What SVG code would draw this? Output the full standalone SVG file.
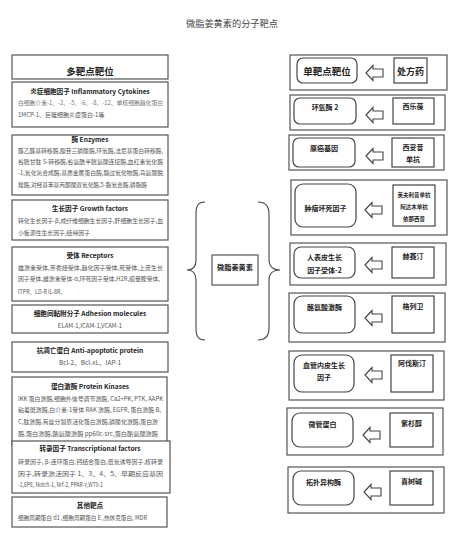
<svg xmlns="http://www.w3.org/2000/svg" xmlns:xlink="http://www.w3.org/1999/xlink" width="463" height="546" viewBox="0 0 463 546">
<style>
text{font-family:"Noto Sans CJK SC","Noto Sans",sans-serif;fill:#333}
.box{fill:#fff;stroke:#555;stroke-width:1.2}
.rb{fill:#fff;stroke:#444;stroke-width:1.2}
.t{font-size:6.6px;font-weight:bold;text-anchor:middle;fill:#222}
.b{font-size:6px;fill:#555}
.bc{font-size:6px;fill:#555;text-anchor:middle}
.h{font-size:9.5px;font-weight:bold;text-anchor:middle;fill:#222}
.r{font-size:7px;font-weight:bold;text-anchor:middle;fill:#222}
.rs{font-size:5.5px;font-weight:bold;text-anchor:middle;fill:#222}
.ln{fill:none;stroke:#444;stroke-width:1.1}
.arr{fill:#fff;stroke:#444;stroke-width:1.1}
</style>
<defs>
<path id="arrow" class="arr" d="M0,0 L7,-7.5 L7,-4 L17,-4 L17,4 L7,4 L7,7.5 Z"/>
</defs>
<rect width="463" height="546" fill="#fff"/>
<text x="232" y="27" style="font-size:9.2px;fill:#444;text-anchor:middle">微脂姜黄素的分子靶点</text>

<g id="left-header"><rect class="box" x="12" y="55" width="156" height="24"/><text class="h" x="90" y="75">多靶点靶位</text></g>

<g id="inflammatory"><rect class="box" x="12" y="82" width="156" height="45"/>
<text class="t" x="90" y="94">炎症细胞因子 Inflammatory Cytokines</text>
<text class="b" x="18" y="105" textLength="145" lengthAdjust="spacingAndGlyphs" style="fill:#777">白细胞介素-1、-2、-5、-6、-8、-12、单核细胞趋化蛋白</text>
<text class="b" x="18" y="117">1MCP-1、巨噬细胞炎症蛋白-1等</text></g>

<g id="enzymes"><rect class="box" x="12" y="135" width="156" height="60"/>
<text class="t" x="90" y="142">酶 Enzymes</text>
<text class="b" x="18" y="153" textLength="145" lengthAdjust="spacingAndGlyphs">醛乙醛基转移酶,腺苷三磷酸酶,环氧酶,法尼基蛋白转移酶,</text>
<text class="b" x="18" y="164" textLength="145" lengthAdjust="spacingAndGlyphs">谷胱甘肽 S-转移酶,谷氨酰半胱氨酸连接酶,血红素氧化酶</text>
<text class="b" x="18" y="175" textLength="145" lengthAdjust="spacingAndGlyphs">-1,氧化氮合成酶,基质金属蛋白酶,髓过氧化物酶,鸟氨酸脱</text>
<text class="b" x="18" y="187" textLength="129" lengthAdjust="spacingAndGlyphs">羧酶,对羟基苯基丙酮酸双氧化酶,5-脂氧合酶,磷脂酶</text></g>

<g id="growth"><rect class="box" x="12" y="200" width="156" height="40"/>
<text class="t" x="90" y="211">生长因子 Growth factors</text>
<text class="b" x="18" y="223" textLength="145" lengthAdjust="spacingAndGlyphs">转化生长因子-β,成纤维细胞生长因子,肝细胞生长因子,血</text>
<text class="b" x="18" y="235" textLength="72" lengthAdjust="spacingAndGlyphs">小板源性生长因子,结缔因子</text></g>

<g id="receptors"><rect class="box" x="12" y="247" width="156" height="54"/>
<text class="t" x="90" y="258">受体 Receptors</text>
<text class="b" x="18" y="270" textLength="145" lengthAdjust="spacingAndGlyphs">雄激素受体,芳香烃受体,趋化因子受体,死受体,上皮生长</text>
<text class="b" x="18" y="281" textLength="142" lengthAdjust="spacingAndGlyphs">因子受体,雌激素受体-α,环死因子受体,H2R,痕量胺受体,</text>
<text class="b" x="18" y="294" textLength="44" lengthAdjust="spacingAndGlyphs">ITPR、LD-R IL-8R,</text></g>

<g id="adhesion"><rect class="box" x="12" y="305" width="156" height="28"/>
<text class="t" x="90" y="316">细胞间黏附分子 Adhesion molecules</text>
<text class="bc" x="90" y="328">ELAM-1,ICAM-1,VCAM-1</text></g>

<g id="antiapoptotic"><rect class="box" x="12" y="342" width="156" height="30"/>
<text class="t" x="90" y="353">抗凋亡蛋白 Anti-apoptotic protein</text>
<text class="bc" x="90" y="365" style="font-size:6.5px">Bcl-2、Bcl-xL、IAP-1</text></g>

<g id="kinases"><rect class="box" x="12" y="377" width="155" height="68"/>
<text class="t" x="90" y="389">蛋白激酶 Protein Kinases</text>
<text class="b" x="18" y="401" textLength="145" lengthAdjust="spacingAndGlyphs">IKK 蛋白激酶,细胞外信号调节激酶, Ca2+PK, PTK, AAPK</text>
<text class="b" x="18" y="412" textLength="143" lengthAdjust="spacingAndGlyphs">粘着斑激酶,白介素-1受体 RAK 激酶, EGFR, 蛋白激酶 B,</text>
<text class="b" x="18" y="424" textLength="140" lengthAdjust="spacingAndGlyphs">C,肽激酶,有丝分裂原活化蛋白激酶,磷酸化激酶,蛋白激</text>
<text class="b" x="18" y="436" textLength="140" lengthAdjust="spacingAndGlyphs">酶,蛋白激酶,酪氨酸激酶 pp60c-src,蛋白酪氨酸激酶</text></g>

<g id="transcription"><rect class="box" x="12" y="441" width="158" height="52"/>
<text class="t" x="90" y="451">转录因子 Transcriptional factors</text>
<text class="b" x="18" y="464" textLength="145" lengthAdjust="spacingAndGlyphs">转录因子, β-连环蛋白,钙结合蛋白,低氧诱导因子,核转录</text>
<text class="b" x="18" y="476" textLength="145" lengthAdjust="spacingAndGlyphs">因子,转录激活因子 1、3、4、5、早期反应基因</text>
<text class="b" x="18" y="487" textLength="85" lengthAdjust="spacingAndGlyphs">-1,EPE, Notch-1, Nrf-2, PPAR-γ,WT0-1</text></g>

<g id="other"><rect class="box" x="12" y="497" width="155" height="30"/>
<text class="t" x="90" y="508">其他靶点</text>
<text class="b" x="18" y="520" textLength="129" lengthAdjust="spacingAndGlyphs">细胞周期蛋白 d1 ,细胞周期蛋白 E ,热休克蛋白, MDR</text></g>

<g id="curcumin"><rect class="box" x="212" y="255" width="46" height="30"/>
<text class="r" x="235" y="270" style="font-size:7.2px">微脂姜黄素</text></g>

<g id="right-header"><rect class="box" x="290" y="55" width="157" height="35"/>
<rect class="rb" x="297" y="58" width="60" height="25" rx="6"/><text class="h" x="327" y="75">单靶点靶位</text>
<rect class="rb" x="394" y="58" width="33" height="25"/><text class="h" x="410.5" y="75" style="font-size:9px">处方药</text></g>

<g id="cox2"><rect class="box" x="290" y="95" width="155" height="35"/>
<rect class="rb" x="294" y="98" width="62" height="26" rx="6"/><text class="r" x="325" y="110">环氧酶 2</text>
<rect class="rb" x="393" y="98" width="41" height="26"/><text class="r" x="413" y="109">西乐葆</text></g>

<g id="oncogene"><rect class="box" x="289" y="135" width="155" height="35"/>
<rect class="rb" x="293" y="138" width="62" height="29" rx="6"/><text class="r" x="324" y="151">原癌基因</text>
<rect class="rb" x="392" y="138" width="42" height="29"/><text class="r" x="413" y="150">西妥昔</text><text class="r" x="413" y="162">单抗</text></g>

<g id="tnf"><rect class="box" x="291" y="180" width="156" height="55"/>
<rect class="rb" x="295" y="184" width="61" height="43" rx="8"/><text class="r" x="325.5" y="211">肿瘤坏死因子</text>
<rect class="rb" x="393" y="185" width="42" height="41"/>
<text class="rs" x="414" y="197">英夫利昔单抗</text><text class="rs" x="414" y="209">阿达木单抗</text><text class="rs" x="414" y="221">依那西普</text></g>

<g id="her2"><rect class="box" x="290" y="243" width="156" height="42"/>
<rect class="rb" x="294" y="247" width="61" height="31" rx="7"/><text class="r" x="324.5" y="260">人表皮生长</text><text class="r" x="324.5" y="273">因子受体-2</text>
<rect class="rb" x="392" y="247" width="42" height="31"/><text class="r" x="413" y="259">赫赛汀</text></g>

<g id="tyrosine"><rect class="box" x="289" y="293" width="156" height="49"/>
<rect class="rb" x="294" y="296" width="61" height="37" rx="8"/><text class="r" x="324.5" y="310">酪氨酸激酶</text>
<rect class="rb" x="392" y="296" width="42" height="37"/><text class="r" x="413" y="309">格列卫</text></g>

<g id="vegf"><rect class="box" x="289" y="351" width="155" height="49"/>
<rect class="rb" x="294" y="355" width="60" height="37" rx="8"/><text class="r" x="324" y="368">血管内皮生长</text><text class="r" x="324" y="380">因子</text>
<rect class="rb" x="391" y="355" width="42" height="37"/><text class="r" x="412" y="366">阿伐斯汀</text></g>

<g id="tubulin"><rect class="box" x="287" y="408" width="156" height="47"/>
<rect class="rb" x="292" y="413" width="61" height="34" rx="8"/><text class="r" x="322.5" y="427">微管蛋白</text>
<rect class="rb" x="390" y="413" width="43" height="34"/><text class="r" x="411.5" y="426">紫杉醇</text></g>

<g id="topo"><rect class="box" x="288" y="467" width="156" height="46"/>
<rect class="rb" x="293" y="471" width="61" height="34" rx="8"/><text class="r" x="323.5" y="485">拓扑异构酶</text>
<rect class="rb" x="390" y="471" width="43" height="34"/><text class="r" x="411.5" y="484">喜树碱</text></g>

<g id="connectors">
<path class="ln" d="M205,202 C198,202 196,206 196,214 L196,260 C196,266 193,270 187,270 C193,270 196,274 196,280 L196,328 C196,336 198,340 205,340"/>
<path class="ln" d="M258,202 C265,202 269,206 269,214 L269,260 C269,266 273,270 280,270 C273,270 269,274 269,280 L269,328 C269,336 265,340 258,340"/>
<use xlink:href="#arrow" x="366" y="73"/>
<use xlink:href="#arrow" x="366" y="115"/>
<use xlink:href="#arrow" x="366" y="156"/>
<use xlink:href="#arrow" x="365" y="210"/>
<use xlink:href="#arrow" x="365" y="265"/>
<use xlink:href="#arrow" x="365" y="318"/>
<use xlink:href="#arrow" x="365" y="375"/>
<use xlink:href="#arrow" x="363" y="435"/>
<use xlink:href="#arrow" x="364" y="492"/>
</g>
</svg>
